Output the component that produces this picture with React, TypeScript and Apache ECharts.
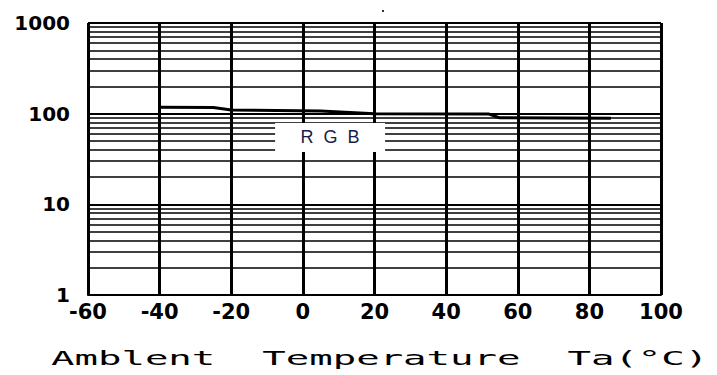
import React, { useEffect, useRef } from "react";
import * as echarts from "echarts";

// Data
const temperature = [-40, -25, -20, 5, 20, 52, 55, 86];
const luminousIntensity = [118, 117, 110, 107, 100, 99, 90, 89];
const minorGridValues = [2, 3, 4, 5, 6, 7, 8, 9, 20, 30, 40, 50, 60, 70, 80, 90, 200, 300, 400, 500, 600, 700, 800, 900];
const xRange = [-60, 100];
const xInterval = 20;
const yRange = [1, 1000];
const seriesLabel = "R  G  B";
const labelCoord = [7.6, 54.6];
const axisTitle = "Amblent  Temperature  Ta(°C)";

export default function App() {
  const ref = useRef<HTMLDivElement>(null);
  useEffect(() => {
    if (!ref.current) return;
    const chart = echarts.init(ref.current, null, { renderer: "svg" });
    const pts = temperature.map((t, i) => [t, luminousIntensity[i]]);
    chart.setOption({
      animation: false,
      backgroundColor: "#ffffff",
      grid: { left: 88, right: 56, top: 23, bottom: 80 },
      xAxis: {
        type: "value",
        min: xRange[0],
        max: xRange[1],
        interval: xInterval,
        axisLine: { show: true, lineStyle: { color: "#000", width: 2 } },
        axisTick: { show: false },
        splitLine: { show: true, lineStyle: { color: "#000", width: 3 } },
        axisLabel: {
          color: "#000",
          fontFamily: "DejaVu Sans",
          fontWeight: "bold",
          fontSize: 21,
          margin: 6,
        },
      },
      yAxis: {
        type: "log",
        logBase: 10,
        min: yRange[0],
        max: yRange[1],
        axisLine: { show: true, lineStyle: { color: "#000", width: 2 } },
        axisTick: { show: false },
        splitLine: { show: true, lineStyle: { color: "#000", width: 2 } },
        axisLabel: {
          color: "#000",
          fontFamily: "DejaVu Sans",
          fontWeight: "bold",
          fontSize: 20,
          margin: 18,
          formatter: (v: number) => String(Math.round(v)),
        },
      },
      series: [
        {
          type: "line",
          data: [],
          silent: true,
          z: 1,
          markLine: {
            silent: true,
            symbol: ["none", "none"],
            label: { show: false },
            lineStyle: { color: "#000", width: 1.6, type: "solid" },
            data: minorGridValues.map((v) => ({ yAxis: v })),
          },
        },
        {
          type: "line",
          data: pts,
          z: 5,
          showSymbol: false,
          lineStyle: { color: "#000", width: 3 },
          markPoint: {
            silent: true,
            symbol: "rect",
            symbolSize: [110, 29],
            itemStyle: { color: "#fff" },
            label: {
              show: true,
              position: "inside",
              formatter: seriesLabel,
              color: "#1c1c48",
              fontFamily: "Liberation Sans",
              fontSize: 18,
            },
            data: [{ coord: labelCoord }],
          },
        },
      ],
      graphic: [
        {
          type: "text",
          x: 51,
          y: 358,
          scaleX: 1.95,
          scaleY: 1,
          style: {
            text: axisTitle,
            fontFamily: "DejaVu Sans Mono",
            fontSize: 20,
            fill: "#000",
            textAlign: "left",
            textVerticalAlign: "middle",
          },
        },
        {
          type: "rect",
          shape: { x: 382, y: 10, width: 2, height: 2 },
          style: { fill: "#333" },
        },
      ],
    });
    return () => chart.dispose();
  }, []);
  return (
    <div
      ref={ref}
      style={{ position: "absolute", left: 0, top: 0, width: 717, height: 375 }}
    />
  );
}
